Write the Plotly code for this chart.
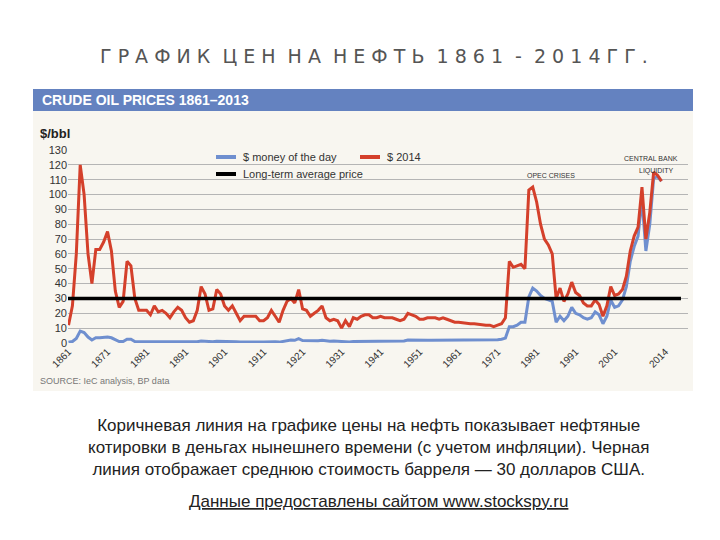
import plotly.graph_objects as go

years = list(range(1861, 2014))
red_2014 = [12,25,60,120,100,60,40,63,63,68,75,62,35,24,28,55,52,30,22,22,
            22,19,25,21,22,20,17,21,24,22,17,14,15,22,38,33,22,23,36,33,
            25,22,25,20,15,18,18,18,18,15,15,17,22,18,14,22,28,30,27,36,
            23,22,18,20,22,25,17,15,16,15,10,15,11,17,16,18,19,19,17,17,
            18,17,17,17,16,15,16,20,19,18,16,16,17,17,17,16,17,16,15,14,
            14,13.5,13.5,13,13,12.5,12.5,12,12,11,12,13,17,55,51,52,53,50,103,105,
            95,80,70,66,60,30,37,28,33,41,34,32,27,25,25,29,26,18,25,38,
            32,33,36,45,62,72,78,105,70,88,115,113,109]
blue_money = [0.5,1,3,8,7,4,2,3.5,3.5,4,4,3.5,2,1,1,2.5,2.5,1,0.9,0.9,
              0.9,0.9,1,0.9,0.9,0.8,0.7,0.8,0.9,0.9,0.7,0.6,0.6,0.8,1.4,1.2,0.8,0.8,1.2,1.2,
              1,0.8,0.9,0.8,0.6,0.7,0.7,0.7,0.7,0.6,0.6,0.7,1,0.8,0.6,1.2,1.6,2,1.8,3,
              1.7,1.6,1.3,1.4,1.5,1.8,1.3,1.2,1.3,1.2,0.7,0.9,0.7,1,1,1.1,1.2,1.2,1.1,1.1,
              1.1,1.1,1.2,1.2,1.2,1.2,1.4,2,1.9,1.7,1.7,1.7,1.9,1.9,1.9,1.9,2,2,1.9,1.9,
              1.9,1.8,1.8,1.8,1.8,1.8,1.8,1.8,1.8,1.8,2.2,2.5,3.3,11,11,12,14,14,31,37,
              35,32,30,29,28,14,18,15,18,24,20,19,17,16,17,21,19,13,18,29,
              24,25,29,38,55,65,72,97,62,80,111,112,109]
avg_price = 30
tick_years = [1861,1871,1881,1891,1901,1911,1921,1931,1941,1951,1961,1971,1981,1991,2001,2014]
y_ticks = list(range(0, 131, 10))

RED = "#d4402b"
BLUE = "#6f8fcf"

fig = go.Figure()
fig.add_trace(go.Scatter(x=years, y=blue_money, mode="lines", line=dict(color=BLUE, width=3)))
fig.add_trace(go.Scatter(x=years, y=red_2014, mode="lines", line=dict(color=RED, width=3)))
fig.add_trace(go.Scatter(x=[years[0]-2, 2018], y=[avg_price, avg_price], mode="lines",
                         line=dict(color="black", width=3.5)))

L, R, T, B = 60, 680, 142, 335
def px(x): return (x - L) / (R - L)
def py(y): return (B - y) / (B - T)
dy = 7
def ay(y): return py(y - dy)

shapes = [
    dict(type="rect", xref="paper", yref="paper", x0=px(25), x1=px(685), y0=ay(390), y1=ay(88),
         fillcolor="#f8f6f0", line=dict(width=0), layer="below"),
    dict(type="rect", xref="paper", yref="paper", x0=px(25), x1=px(685), y0=ay(110), y1=ay(88),
         fillcolor="#6482c0", line=dict(width=0), layer="below"),
    dict(type="line", xref="paper", yref="paper", x0=px(208), x1=px(228), y0=ay(156), y1=ay(156),
         line=dict(color=BLUE, width=4)),
    dict(type="line", xref="paper", yref="paper", x0=px(352), x1=px(372), y0=ay(156), y1=ay(156),
         line=dict(color=RED, width=4)),
    dict(type="line", xref="paper", yref="paper", x0=px(208), x1=px(228), y0=ay(173), y1=ay(173),
         line=dict(color="black", width=4)),
]

def ann(text, x, y, size, color="#333", xanchor="left", family="Liberation Sans", **kw):
    return dict(text=text, xref="paper", yref="paper", x=px(x), y=ay(y), showarrow=False,
                xanchor=xanchor, yanchor="middle", font=dict(size=size, color=color, family=family), **kw)

annotations = [
    ann("Г Р А Ф И К  Ц Е Н  Н А  Н Е Ф Т Ь  1 8 6 1  -  2 0 1 4 Г Г .", 366, 55, 19, "#555", "center", "DejaVu Sans"),
    ann("<b>CRUDE OIL PRICES 1861–2013</b>", 32, 99, 14, "white"),
    ann("<b>$/bbl</b>", 30, 133, 13, "#222"),
    ann("$ money of the day", 233, 156, 11),
    ann("$ 2014", 377, 156, 11),
    ann("Long-term average price", 233, 173, 11),
    ann("OPEC CRISES", 543, 174, 7, "#333", "center"),
    ann("CENTRAL BANK", 643, 157, 7, "#333", "center"),
    ann("LIQUIDITY", 648, 170, 7, "#333", "center"),
    ann("SOURCE: IeC analysis, BP data", 30, 380, 9, "#777"),
    ann("Коричневая линия на графике цены на нефть показывает нефтяные<br>"
        "котировки в деньгах нынешнего времени (с учетом инфляции). Черная<br>"
        "линия отображает среднюю стоимость барреля — 30 долларов США.",
        360, 446, 17, "#222", "center"),
    ann("<u>Данные предоставлены сайтом www.stockspy.ru</u>", 370, 500, 17, "#222", "center"),
]

fig.update_layout(
    width=720, height=540, showlegend=False,
    paper_bgcolor="white", plot_bgcolor="rgba(0,0,0,0)",
    margin=dict(l=L, r=720 - R, t=T, b=540 - B),
    shapes=shapes, annotations=annotations,
    xaxis=dict(range=[1860.87, 2019.8], tickvals=tick_years, ticktext=[str(t) for t in tick_years],
               tickangle=-45, showgrid=False, zeroline=False, automargin=False,
               tickfont=dict(size=10, color="#333")),
    yaxis=dict(range=[0, 130], tickvals=y_ticks, showgrid=True, gridcolor="#b5b5b5",
               zeroline=False, automargin=False, tickfont=dict(size=11, color="#333")),
    font=dict(family="Liberation Sans"),
)
fig.write_html("out.html")
